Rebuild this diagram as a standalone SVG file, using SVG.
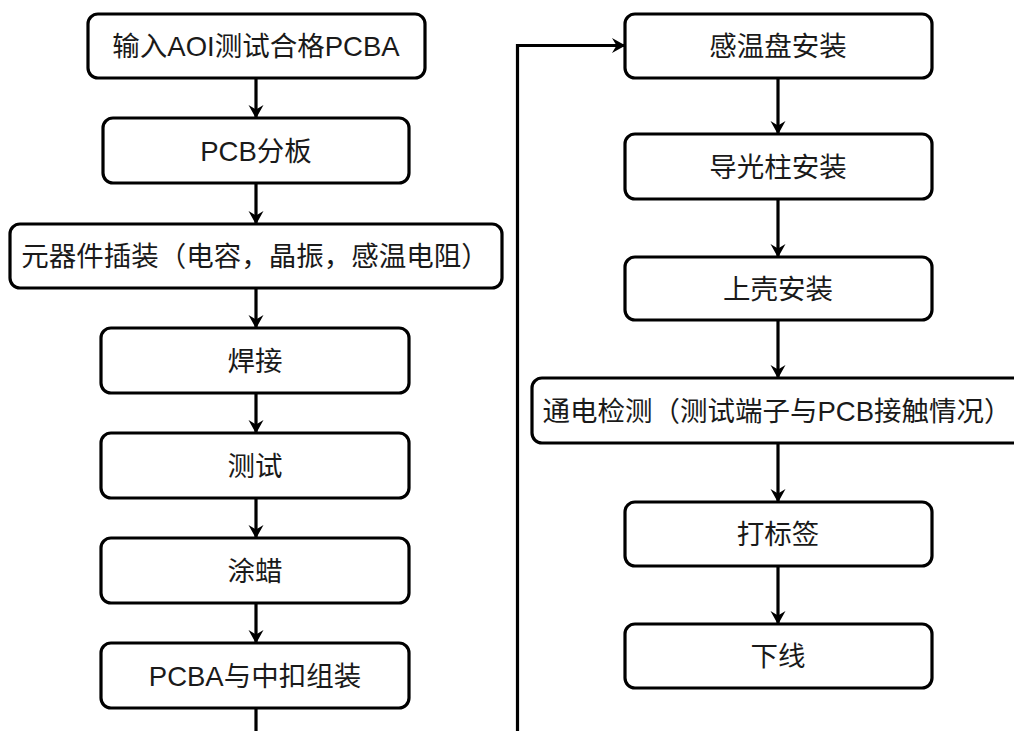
<svg xmlns="http://www.w3.org/2000/svg" width="1014" height="731" viewBox="0 0 1014 731">
<defs>
<style>
.box{fill:#fff;stroke:#000;stroke-width:3.2}
.t{font-family:"Liberation Sans","Noto Sans CJK SC",sans-serif;font-size:27.5px;fill:#1a1a1a;text-anchor:middle;dominant-baseline:central}
.c{fill:none;stroke:#000;stroke-width:3.2}
</style>
<marker id="ah" viewBox="0 0 14 16" refX="13" refY="8" markerWidth="14" markerHeight="16" markerUnits="userSpaceOnUse" orient="auto">
<path d="M0,0.5 L13.5,8 L0,15.5 L4.5,8 Z" fill="#000"/>
</marker>
</defs>
<rect width="1014" height="731" fill="#fff"/>
<g id="connectors">
<line class="c" x1="256" y1="78" x2="256" y2="118" marker-end="url(#ah)"/>
<line class="c" x1="256" y1="183" x2="256" y2="224" marker-end="url(#ah)"/>
<line class="c" x1="256" y1="288" x2="256" y2="328" marker-end="url(#ah)"/>
<line class="c" x1="256" y1="393" x2="256" y2="433" marker-end="url(#ah)"/>
<line class="c" x1="256" y1="498" x2="256" y2="538" marker-end="url(#ah)"/>
<line class="c" x1="256" y1="603" x2="256" y2="643" marker-end="url(#ah)"/>
<line class="c" x1="256" y1="708" x2="256" y2="731"/>
<polyline class="c" points="517.5,731 517.5,45.5 625,45.5" marker-end="url(#ah)"/>
<line class="c" x1="778" y1="78" x2="778" y2="134" marker-end="url(#ah)"/>
<line class="c" x1="778" y1="199" x2="778" y2="257" marker-end="url(#ah)"/>
<line class="c" x1="778" y1="320" x2="778" y2="378" marker-end="url(#ah)"/>
<line class="c" x1="778" y1="443" x2="778" y2="502" marker-end="url(#ah)"/>
<line class="c" x1="778" y1="566" x2="778" y2="624" marker-end="url(#ah)"/>
</g>
<g id="n1"><rect class="box" x="88" y="14" width="337" height="64" rx="10"/><text class="t" x="256" y="46">输入AOI测试合格PCBA</text></g>
<g id="n2"><rect class="box" x="103" y="118" width="306" height="65" rx="10"/><text class="t" x="256" y="151">PCB分板</text></g>
<g id="n3"><rect class="box" x="10" y="224" width="492" height="64" rx="10"/><text class="t" x="255" y="256">元器件插装（电容，晶振，感温电阻）</text></g>
<g id="n4"><rect class="box" x="101" y="328" width="308" height="65" rx="10"/><text class="t" x="255" y="361">焊接</text></g>
<g id="n5"><rect class="box" x="101" y="433" width="308" height="65" rx="10"/><text class="t" x="255" y="466">测试</text></g>
<g id="n6"><rect class="box" x="101" y="538" width="308" height="65" rx="10"/><text class="t" x="255" y="571">涂蜡</text></g>
<g id="n7"><rect class="box" x="101" y="643" width="308" height="65" rx="10"/><text class="t" x="255" y="676">PCBA与中扣组装</text></g>
<g id="n8"><rect class="box" x="625" y="14" width="307" height="64" rx="10"/><text class="t" x="778" y="46">感温盘安装</text></g>
<g id="n9"><rect class="box" x="625" y="134" width="307" height="65" rx="10"/><text class="t" x="778" y="167">导光柱安装</text></g>
<g id="n10"><rect class="box" x="625" y="257" width="307" height="63" rx="10"/><text class="t" x="778" y="289">上壳安装</text></g>
<g id="n11"><rect class="box" x="532" y="378" width="500" height="65" rx="10"/><text class="t" x="777" y="411">通电检测（测试端子与PCB接触情况）</text></g>
<g id="n12"><rect class="box" x="625" y="502" width="307" height="64" rx="10"/><text class="t" x="778" y="534">打标签</text></g>
<g id="n13"><rect class="box" x="625" y="624" width="307" height="64" rx="10"/><text class="t" x="778" y="656">下线</text></g>
</svg>
